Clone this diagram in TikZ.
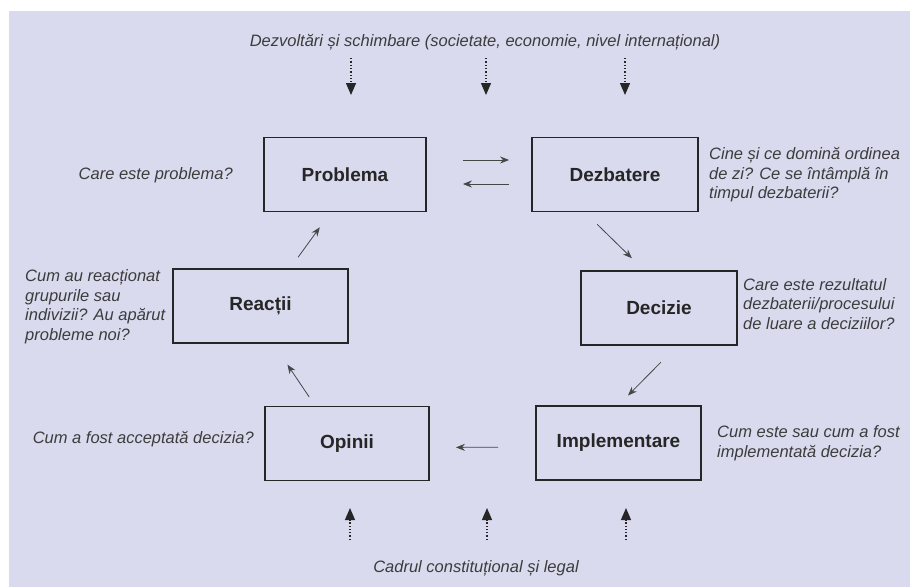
\documentclass[tikz,border=0pt]{standalone}
\usepackage{fontspec}
\setmainfont{Liberation Sans}
\usetikzlibrary{arrows.meta,positioning}
\definecolor{panel}{RGB}{217,218,238}
\definecolor{ink}{RGB}{38,38,38}

\begin{document}
\begin{tikzpicture}[
    x=1pt, y=-1pt,
    stage/.style={rectangle, draw=ink, line width=1.8pt, minimum height=74pt, font=\fontsize{19}{22}\selectfont\bfseries, text=ink},
    note/.style={inner sep=0pt, align=left, font=\fontsize{16.5}{19.5}\selectfont\itshape, text=ink!90},
    flow/.style={-{Stealth[length=9pt,width=7pt]}, line width=0.8pt, ink!85},
    ext/.style={-{Triangle[length=12pt,width=10pt]}, dotted, line width=1.3pt, ink}
]

% Panel
\useasboundingbox (0,0) rectangle (910,587);
\fill[panel] (9,11) rectangle (910,587);

% Stages of the cycle
\node[stage, minimum width=162pt] (prob) at (345,174.5) {Problema};
\node[stage, minimum width=166pt] (dezb) at (615,174.5) {Dezbatere};
\node[stage, minimum width=156pt] (dec) at (659,308) {Decizie};
\node[stage, minimum width=165pt] (impl) at (618.5,443) {Implementare};
\node[stage, minimum width=164pt] (opin) at (347,443.5) {Opinii};
\node[stage, minimum width=175pt] (reac) at (260.5,306) {Reacții};

% Questions
\node[note, anchor=east] (qprob) at (233,175) {Care este problema?};
\node[note, anchor=west] (qdezb) at (709,175) {Cine și ce domină ordinea\\de zi? Ce se întâmplă în\\timpul dezbaterii?};
\node[note, anchor=west] (qdec) at (743,304) {Care este rezultatul\\dezbaterii/procesului\\de luare a deciziilor?};
\node[note, anchor=west] (qimpl) at (717,443) {Cum este sau cum a fost\\implementată decizia?};
\node[note, anchor=east] (qopin) at (254,439) {Cum a fost acceptată decizia?};
\node[note, anchor=west] (qreac) at (25,306.5) {Cum au reacționat\\grupurile sau\\indivizii? Au apărut\\probleme noi?};

% Context
\node[note] (trends) at (485,42) {Dezvoltări și schimbare (societate, economie, nivel internațional)};
\node[note] (legal) at (476,568) {Cadrul constituțional și legal};

% Cycle arrows
\draw[flow, shorten <=36pt, shorten >=22pt] ([yshift=14.5pt]prob.east) -- ([yshift=14.5pt]dezb.west);
\draw[flow, shorten <=22pt, shorten >=36pt] ([yshift=-9.5pt]dezb.west) -- ([yshift=-9.5pt]prob.east);
\draw[flow, shorten <=17pt, shorten >=17pt] ([xshift=-30pt]dezb.south) -- ([xshift=-15pt]dec.north);
\draw[flow, shorten <=23pt, shorten >=13.5pt] ([xshift=18pt]dec.south) -- (impl.north);
\draw[flow, shorten <=37pt, shorten >=26pt] ([yshift=-4pt]impl.west) -- ([yshift=-4pt]opin.east);
\draw[flow, shorten <=10.5pt, shorten >=25pt] ([xshift=-32pt]opin.north) -- ([xshift=13pt]reac.south);
\draw[flow, shorten <=13.5pt, shorten >=18.4pt] ([xshift=29.7pt]reac.north) -- ([xshift=-14.4pt]prob.south);

% Outside influences
\foreach \x [count=\i] in {351,486,625} {
  \coordinate (in\i) at (\x,58);
  \coordinate (down\i) at (\x,95);
  \draw[ext] (in\i) -- (down\i);
}
\foreach \x [count=\i] in {350,487,626} {
  \coordinate (base\i) at (\x,540);
  \coordinate (up\i) at (\x,508);
  \draw[ext] (base\i) -- (up\i);
}

\end{tikzpicture}
\end{document}
